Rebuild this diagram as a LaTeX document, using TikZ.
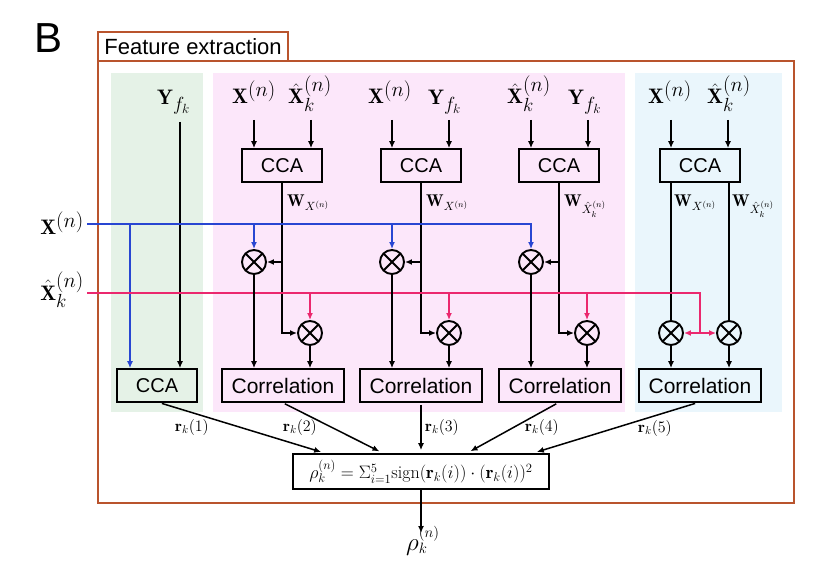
\IfFileExists{fix-cm.sty}{\RequirePackage{fix-cm}}{}
\documentclass[tikz,border=0pt]{standalone}
\usepackage{fontspec}
\newfontfamily\arial{Liberation Sans}
\usetikzlibrary{arrows.meta,calc}
\DeclareMathSizes{25}{25}{15}{12}
\newcommand\Sp[1]{^{\mbox{\fontsize{21}{23}\selectfont$#1$}}}
\newcommand\Sb[1]{_{\mbox{\fontsize{19}{21}\selectfont$#1$}}}
\definecolor{brn}{RGB}{185,84,45}
\definecolor{bggreen}{RGB}{229,242,231}
\definecolor{bgpink}{RGB}{252,231,250}
\definecolor{bgblue}{RGB}{234,246,252}
\definecolor{lblue}{RGB}{40,70,210}
\definecolor{lpink}{RGB}{235,40,110}
\begin{document}
\begin{tikzpicture}[x=1pt,y=-1pt,
  tip/.tip={Latex[length=7pt,width=6pt]},
  conn/.style={line width=1.5pt},
  arr/.style={conn,-tip},
  bluearr/.style={conn,lblue,-tip},
  pinkarr/.style={conn,lpink,-tip},
  lbl/.style={font=\fontsize{21}{25}\selectfont,inner sep=0pt,anchor=base west},
  wl/.style={font=\fontsize{17}{20}\selectfont,inner sep=0pt,anchor=base west},
  rl/.style={font=\fontsize{16}{19}\selectfont,inner sep=0pt},
  ccabox/.style={draw,line width=1.7pt,minimum width=80pt,minimum height=33pt,inner sep=0pt,font=\arial\fontsize{20}{24}\selectfont},
  corrbox/.style={draw,line width=1.7pt,minimum width=122pt,minimum height=33pt,inner sep=0pt,font=\arial\fontsize{21}{25}\selectfont},
  mult/.style={circle,draw,line width=1.9pt,minimum size=24pt,inner sep=0pt,
    path picture={\draw[line width=1.9pt] (path picture bounding box.north west) -- (path picture bounding box.south east)
      (path picture bounding box.north east) -- (path picture bounding box.south west);}}
]
\useasboundingbox (0,0) rectangle (831,575);
% backgrounds
\fill[bggreen] (111,73) rectangle (203,412);
\fill[bgpink] (213,73) rectangle (625,412);
\fill[bgblue] (635,73) rectangle (782,412);
% frame
\draw[brn,line width=2pt] (98,61) rectangle (794,503);
\draw[brn,line width=2pt] (98,32) rectangle (288,61);
\node[font=\arial\fontsize{22}{26}\selectfont,inner sep=0pt] (title) at (193,47) {Feature extraction};
\node[font=\arial\fontsize{42}{46}\selectfont,anchor=base west,inner sep=0pt] (B) at (34,53) {B};

% side labels
\node[lbl,anchor=base east] (xside) at (84,235) {$\mathbf{X}\Sp{(n)}$};
\node[lbl,anchor=base east] (hside) at (84,300) {$\hat{\mathbf{X}}\Sb{k}\Sp{(n)}$};
\coordinate (bx) at (87,224);
\coordinate (px) at (87,293);

% top labels
\node[lbl] (yl) at (157,105) {$\mathbf{Y}\Sb{f_k}$};
\node[lbl] (x1) at (232,104) {$\mathbf{X}\Sp{(n)}$};
\node[lbl] (h1) at (288,104) {$\hat{\mathbf{X}}\Sb{k}\Sp{(n)}$};
\node[lbl] (x2) at (368,104) {$\mathbf{X}\Sp{(n)}$};
\node[lbl] (y2) at (428,105) {$\mathbf{Y}\Sb{f_k}$};
\node[lbl] (h3) at (507,104) {$\hat{\mathbf{X}}\Sb{k}\Sp{(n)}$};
\node[lbl] (y3) at (568,105) {$\mathbf{Y}\Sb{f_k}$};
\node[lbl] (x4) at (648,104) {$\mathbf{X}\Sp{(n)}$};
\node[lbl] (h4) at (707,104) {$\hat{\mathbf{X}}\Sb{k}\Sp{(n)}$};

% CCA boxes
\node[ccabox] (cca1) at (282,165.5) {CCA};
\node[ccabox] (cca2) at (421,165.5) {CCA};
\node[ccabox] (cca3) at (559,165.5) {CCA};
\node[ccabox] (cca4) at (700,165.5) {CCA};
\node[ccabox] (cca0) at (157,385.5) {CCA};

% Correlation boxes
\node[corrbox] (cor1) at (283,385.5) {Correlation};
\node[corrbox] (cor2) at (421,385.5) {Correlation};
\node[corrbox] (cor3) at (560,385.5) {Correlation};
\node[corrbox] (cor4) at (700,385.5) {Correlation};

% multipliers
\node[mult] (a1) at (254,262) {};
\node[mult] (b1) at (310,333) {};
\node[mult] (a2) at (392,262) {};
\node[mult] (b2) at (449,333) {};
\node[mult] (a3) at (531,262) {};
\node[mult] (b3) at (587,333) {};
\node[mult] (m4a) at (671,333) {};
\node[mult] (m4b) at (729,333) {};

% top input arrows
\coordinate (ty) at (180,122);
\draw[arr] (ty) -- (ty |- cca0.north);
\foreach \n/\xx in {t1a/254,t1b/311,t2a/392,t2b/449,t3a/531,t3b/588,t4a/671,t4b/728}{
  \coordinate (\n) at (\xx,120);
}
\draw[arr] (t1a) -- (t1a |- cca1.north);
\draw[arr] (t1b) -- (t1b |- cca1.north);
\draw[arr] (t2a) -- (t2a |- cca2.north);
\draw[arr] (t2b) -- (t2b |- cca2.north);
\draw[arr] (t3a) -- (t3a |- cca3.north);
\draw[arr] (t3b) -- (t3b |- cca3.north);
\draw[arr] (t4a) -- (t4a |- cca4.north);
\draw[arr] (t4b) -- (t4b |- cca4.north);

% CCA outputs (pink blocks)
\draw[arr] (cca1.south) |- (b1.west);
\draw[arr] (cca1.south |- a1) -- (a1.east);
\draw[arr] (cca2.south) |- (b2.west);
\draw[arr] (cca2.south |- a2) -- (a2.east);
\draw[arr] (cca3.south) |- (b3.west);
\draw[arr] (cca3.south |- a3) -- (a3.east);
% blue block outputs
\draw[conn] (cca4.south -| m4a) -- (m4a.north);
\draw[conn] (cca4.south -| m4b) -- (m4b.north);

% W labels
\node[wl] (w1) at (287,207) {$\mathbf{W}_{X^{(n)}}$};
\node[wl] (w2) at (426,207) {$\mathbf{W}_{X^{(n)}}$};
\node[wl] (w3) at (564,207) {$\mathbf{W}_{\hat{X}_k^{(n)}}$};
\node[wl] (w4a) at (674,207) {$\mathbf{W}_{X^{(n)}}$};
\node[wl] (w4b) at (732,207) {$\mathbf{W}_{\hat{X}_k^{(n)}}$};

% blue line
\draw[bluearr] (bx) -| (a3.north);
\coordinate (g) at (130,224);
\draw[bluearr] (g) -- (g |- cca0.north);
\draw[bluearr] (bx -| a1) -- (a1.north);
\draw[bluearr] (bx -| a2) -- (a2.north);

% pink line
\coordinate (pj) at ($(m4a)!0.5!(m4b)$);
\draw[conn,lpink] (px) -| (pj);
\draw[conn,lpink,tip-tip] (m4a.east) -- (m4b.west);
\draw[pinkarr] (px -| b1) -- (b1.north);
\draw[pinkarr] (px -| b2) -- (b2.north);
\draw[pinkarr] (px -| b3) -- (b3.north);

% multiplier outputs
\foreach \m/\c in {a1/cor1,b1/cor1,a2/cor2,b2/cor2,a3/cor3,b3/cor3,m4a/cor4,m4b/cor4}{
  \draw[arr] (\m.south) -- (\m.south |- \c.north);
}

% formula
\node[draw,line width=1.7pt,minimum width=256pt,minimum height=35pt,inner sep=0pt,font=\fontsize{18}{21}\selectfont] (f) at (421,471.5)
  {$\rho_k^{(n)} = \Sigma_{i=1}^{5}\mathrm{sign}(\mathbf{r}_k(i))\cdot(\mathbf{r}_k(i))^2$};

\draw[arr,shorten <=2pt,shorten >=4pt] ([xshift=3pt]cca0.south) -- ([xshift=-96pt]f.north);
\draw[arr,shorten <=2pt,shorten >=4pt] (cor1.south) -- ([xshift=-38pt]f.north);
\draw[arr,shorten <=2pt,shorten >=3pt] (cor2.south) -- (f.north);
\draw[arr,shorten <=2pt,shorten >=4pt] ([xshift=-2pt]cor3.south) -- ([xshift=46pt]f.north);
\draw[arr,shorten <=2pt,shorten >=4pt] ([xshift=-3pt]cor4.south) -- ([xshift=112pt]f.north);

\node[rl] (r1) at (192,427) {$\mathbf{r}_k(1)$};
\node[rl] (r2) at (300,427) {$\mathbf{r}_k(2)$};
\node[rl] (r3) at (442,427) {$\mathbf{r}_k(3)$};
\node[rl] (r4) at (542,427) {$\mathbf{r}_k(4)$};
\node[rl] (r5) at (655,428) {$\mathbf{r}_k(5)$};

% output
\node[font=\fontsize{25}{29}\selectfont,inner sep=0pt,anchor=base west] (rho) at (406,550) {$\rho_k^{(n)}$};
\coordinate (oe) at (421,533);
\draw[arr] (f.south) -- (oe);
\end{tikzpicture}
\end{document}
